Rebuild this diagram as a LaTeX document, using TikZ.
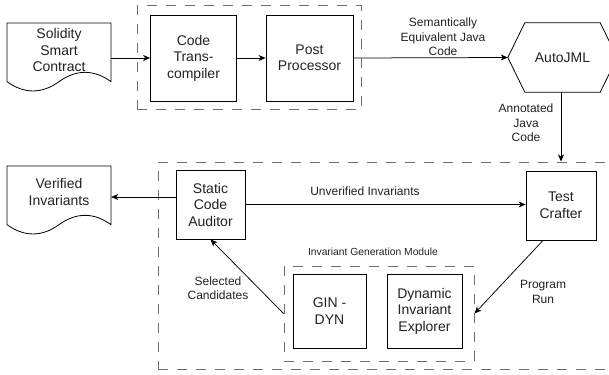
\documentclass[tikz,border=0pt]{standalone}
\usepackage{fontspec}
\setmainfont{Liberation Sans}
\usetikzlibrary{arrows.meta,calc}
\definecolor{txt}{HTML}{222222}
\definecolor{dashc}{HTML}{6E6E6E}
\tikzset{
  box/.style={draw=black,line width=0.8pt,minimum width=#1,minimum height=86pt,inner sep=0pt,align=center,font=\fontsize{14}{16.5}\selectfont,text=txt},
  sbox/.style={draw=black,line width=0.8pt,inner sep=0pt,align=center,font=\fontsize{14}{16.5}\selectfont,text=txt},
  holder/.style={draw=none,inner sep=0pt},
  grp/.style={draw=dashc,line width=1pt,dash pattern=on 10pt off 9pt,inner sep=0pt},
  maintext/.style={align=center,inner sep=0pt,font=\fontsize{14}{16.5}\selectfont,text=txt},
  elabel/.style={align=center,inner sep=0pt,font=\fontsize{12}{14.5}\selectfont,text=txt},
  arr/.style={draw=black,line width=0.75pt,-{Stealth[length=7pt,width=6pt,inset=2pt]}},
  shapeline/.style={draw=black,line width=0.8pt,line join=miter}
}
\begin{document}
\begin{tikzpicture}[x=1pt,y=-1pt]
\useasboundingbox (0,0) rectangle (609,374);
\clip (0,0) rectangle (609,374);
\fill[white] (0,0) rectangle (609,374);

% ---------- top row ----------
\node[grp,minimum width=224pt,minimum height=104pt] (g1) at (249,58) {};
\node[holder,minimum width=104pt,minimum height=69pt] (sol) at (59,57.5) {};
\draw[shapeline] (7,23) -- (111,23) -- (111,81.65)
  .. controls (93.67,69.22) and (76.33,69.22) .. (59,81.65)
  .. controls (41.67,94.07) and (24.33,94.07) .. (7,81.65) -- cycle;
\node[maintext] (soltext) at (59,50) {Solidity\\Smart\\Contract};

\node[box=86pt] (ct) at (193.5,58) {Code\\Trans-\\compiler};
\node[box=87pt] (pp) at (309.5,58) {Post\\Processor};

\node[holder,minimum width=109pt,minimum height=69pt,font=\fontsize{14}{16.5}\selectfont,text=txt] (aj) at (562.5,57.5) {AutoJML};
\draw[shapeline] (aj.west) -- ([xshift=17pt]aj.north west) -- ([xshift=-17pt]aj.north east)
  -- (aj.east) -- ([xshift=-17pt]aj.south east) -- ([xshift=17pt]aj.south west) -- cycle;

\draw[arr] (sol.east |- ct.west) -- (ct.west);
\draw[arr] (ct.east) -- (pp.west);
\draw[arr] (pp.east) -- (aj.west);
\node[elabel] (l1) at (443,37) {Semantically\\Equivalent Java\\Code};

% ---------- bottom ----------
\node[grp,minimum width=462pt,minimum height=207pt] (g2) at (389,265.5) {};
\draw[arr] ([xshift=-1.5pt]aj.south) -- ([xshift=-1.5pt]aj.south |- g2.north);
\node[elabel] (l2) at (526,123) {Annotated\\Java\\Code};

\node[holder,minimum width=104pt,minimum height=69pt] (vi) at (59,200.5) {};
\draw[shapeline] (7,166) -- (111,166) -- (111,224.65)
  .. controls (93.67,212.22) and (76.33,212.22) .. (59,224.65)
  .. controls (41.67,237.07) and (24.33,237.07) .. (7,224.65) -- cycle;
\node[maintext] (vitext) at (59,192) {Verified\\Invariants};

\node[sbox,minimum width=69pt,minimum height=69pt] (sca) at (210.5,204.5) {Static\\Code\\Auditor};
\node[sbox,minimum width=70pt,minimum height=69pt] (tc) at (561,205.5) {Test\\Crafter};

\draw[arr] ([yshift=7.5pt]sca.west) -- ([yshift=7.5pt]sca.west -| vi.east);
\draw[arr] (sca.east) -- (sca.east -| tc.west);
\node[elabel] (l3) at (365,191) {Unverified Invariants};

\node[align=center,inner sep=0pt,font=\fontsize{10.3}{12}\selectfont,text=txt] (l4) at (373,252) {Invariant Generation Module};
\node[grp,minimum width=190pt,minimum height=95pt] (g3) at (379,313.5) {};
\node[sbox,minimum width=73pt,minimum height=74pt] (gin) at (329.5,311) {GIN -\\DYN};
\node[sbox,minimum width=75pt,minimum height=74pt] (die) at (424.5,311) {Dynamic\\Invariant\\Explorer};

\draw[arr] ([xshift=-18pt]tc.south) -- (g3.east);
\node[elabel] (l5) at (543,292) {Program\\Run};
\draw[arr] (g3.west) -- (sca.south);
\node[elabel] (l6) at (218,288) {Selected\\Candidates};
\end{tikzpicture}
\end{document}
